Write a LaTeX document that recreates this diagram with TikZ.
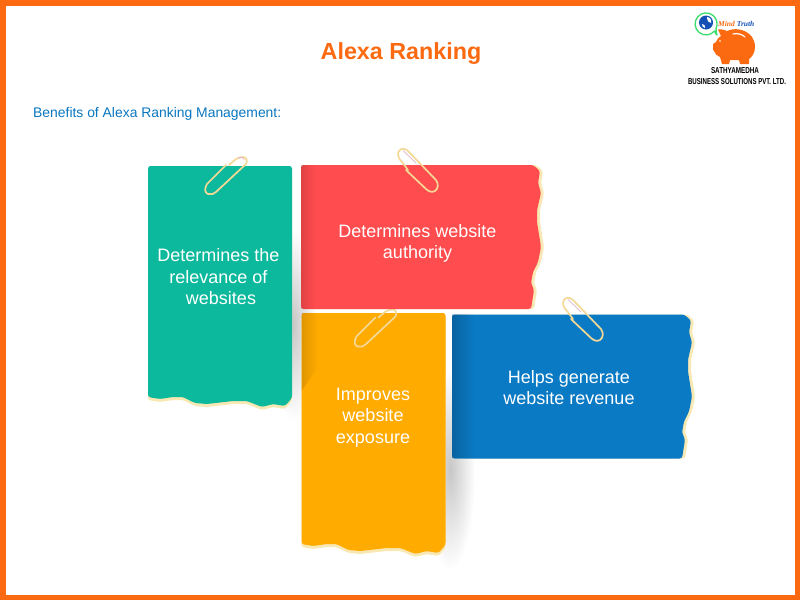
\documentclass[tikz,border=0pt]{standalone}
\usepackage{fontspec}
\usepackage{graphicx}
\usetikzlibrary{fadings}
\setmainfont{Liberation Sans}
\newfontfamily\logoserif{Liberation Serif}
\definecolor{frameorange}{HTML}{FB6A10}
\definecolor{paperteal}{HTML}{0DB99C}
\definecolor{paperred}{HTML}{FF4C4E}
\definecolor{paperamber}{HTML}{FFAB00}
\definecolor{paperblue}{HTML}{0B7AC4}
\definecolor{tornedge}{HTML}{F8E8B4}
\definecolor{clipgold}{HTML}{F4D996}
\definecolor{clippink}{HTML}{E0B4C8}
\definecolor{subblue}{HTML}{0A77C0}
\definecolor{bubblegreen}{HTML}{3DDC6E}
\definecolor{globeblue}{HTML}{1450B4}
\tikzfading[name=softglow, inner color=transparent!78, outer color=transparent!100]
\newcommand{\tallpaper}{(0,0) -- (144,0) -- (144,232) -- (137,240) -- (125,238) -- (114,241) -- (99,235) -- (85,235) -- (59,238) -- (47,237) -- (35,231) -- (25,231) -- (12,233) -- (0,231) -- cycle}
\newcommand{\widepaper}{(0,0) -- (232,0) -- (239,6) -- (237,18) -- (240,28) -- (236,45) -- (236,57) -- (240,82) -- (237,97) -- (232,107) -- (230,118) -- (233,125) -- (230,144) -- (0,144) -- cycle}
\newcommand{\clipupright}{(21,7) -- (2,26) .. controls (-1,31) and (0,35) .. (3,36) .. controls (6,37) and (9,36) .. (11,34) -- (41,6) .. controls (43,2) and (41,-1) .. (38,-1) .. controls (36,-1) and (33,0) .. (31,1) -- (24,7)}
\newcommand{\clipdownright}{(10,23) -- (4,15) .. controls (0,11) and (-1,7) .. (1,4) .. controls (3,1) and (7,1) .. (10,4) -- (38,33) .. controls (41,37) and (40,42) .. (37,44) .. controls (34,46) and (30,44) .. (28,42) -- (8,23)}
\tikzset{
  x=1pt,y=-1pt,
  notetext/.style={text=white,align=center,inner sep=0pt,font={\fontsize{18}{21.5}\selectfont}},
  clipwire/.style={draw=clipgold,line width=1.7pt,line cap=round,line join=round},
  softshadow/.style={fill=black,path fading=softglow},
  leftshade/.style={fill=black,opacity=.12,path fading=east},
  tear/.style={rounded corners=2.5pt},
}
\begin{document}
\begin{tikzpicture}
\useasboundingbox (0,0) rectangle (800,600);
\fill[white] (0,0) rectangle (800,600);
% soft shadows
\fill[softshadow] (270,230) rectangle (316,420);
\fill[softshadow] (425,370) rectangle (475,570);
% amber note with its clip
\begin{scope}[shift={(301.5,313)}]
  \fill[tornedge,tear,shift={(0,3)}] \tallpaper;
  \fill[paperamber,tear] \tallpaper;
  \fill[leftshade] (0,0) -- (16,0) -- (16,55) -- (0,78) -- cycle;
\end{scope}
\draw[clipwire,shift={(354.5,310.5)}] \clipupright;
% teal note
\begin{scope}[shift={(148,166)}]
  \fill[tornedge,tear,shift={(0,3)}] \tallpaper;
  \fill[paperteal,tear] \tallpaper;
\end{scope}
\draw[clipwire,shift={(205,158)}] \clipupright;
\draw[clippink,line width=.7pt] (238,157.5) .. controls (241,156.5) and (243,157.5) .. (244.5,159.5);
% red note
\begin{scope}[shift={(301,165)}]
  \fill[tornedge,tear,shift={(3,0)}] \widepaper;
  \fill[paperred,tear] \widepaper;
  \fill[leftshade] (0,0) rectangle (14,144);
\end{scope}
\draw[clipwire,shift={(398,147)}] \clipdownright;
\draw[clippink,line width=.7pt] (403,150.5) -- (416,163);
% blue note
\begin{scope}[shift={(452,314.5)}]
  \fill[tornedge,tear,shift={(3,0)}] \widepaper;
  \fill[paperblue,tear] \widepaper;
  \fill[leftshade,opacity=.18] (0,0) rectangle (22,144);
\end{scope}
\draw[clipwire,shift={(563,296)}] \clipdownright;
\draw[clippink,line width=.7pt] (568,299.5) -- (581,312);
% frame
\draw[frameorange,line width=5.5pt] (2.75,2.75) rectangle (797.25,597.25);
% headings
\node[text=frameorange,inner sep=0pt,font={\fontsize{23.3}{28}\selectfont\bfseries}] (title) at (401,54) {Alexa Ranking};
\node[text=subblue,anchor=west,inner sep=0pt,font={\fontsize{13.9}{18}\selectfont}] (subtitle) at (33,114) {Benefits of Alexa Ranking Management:};
% note texts
\node[notetext] (t1) at (218.5,277) {Determines the\\relevance of\\\hspace*{5pt}websites};
\node[notetext] (t2) at (417.5,243.5) {Determines website\\authority};
\node[notetext] (t3) at (373,417.5) {Improves\\website\\exposure};
\node[notetext] (t4) at (569,387.5) {Helps generate\\website revenue};
% logo
\fill[white,draw=bubblegreen,line width=1.3pt,line join=round] (714.5,31) arc[start angle=40,end angle=385,radius=11] .. controls (716,30) and (716,32) .. (717,35) .. controls (716,34) and (715,33) .. (714.5,31) -- cycle;
\fill[globeblue] (706,22.5) circle[radius=7];
\fill[white] (707,17) .. controls (710,17) and (712,20) .. (711,23) .. controls (709,23) and (707,21) .. (707,17) -- cycle;
\fill[white] (702,24) .. controls (704,24) and (706,26) .. (705,28) .. controls (703,28) and (702,26) .. (702,24) -- cycle;
\fill[frameorange] (718,29.5) .. controls (722,29) and (725,30) .. (727,31) .. controls (737,26) and (755,31) .. (755,47) .. controls (755,53) and (752,57) .. (749,59) -- (749,64) -- (740,64) -- (739,60) -- (730,60) -- (729,64) -- (722,64) -- (720,57) .. controls (717,56) and (715,54) .. (714,51) -- (713,50) -- (713,44) -- (716,42) .. controls (717,39) and (719,37) .. (721,36) -- cycle;
\draw[white,line width=1.2pt,line cap=round] (733,34) .. controls (737,33) and (742,34) .. (745,37);
\fill[white] (720,41) circle[radius=.9];
\node[inner sep=0pt,anchor=west,font={\fontsize{7.5}{9}\logoserif\bfseries\itshape}] (mindtruth) at (718,24) {\textcolor{frameorange}{Mind} \textcolor{globeblue}{Truth}};
\node[inner sep=0pt,font=\bfseries] (logo1) at (735,70.5) {\resizebox{48pt}{6pt}{SATHYAMEDHA}};
\node[inner sep=0pt,font=\bfseries] (logo2) at (737,81.5) {\resizebox{98pt}{6pt}{BUSINESS SOLUTIONS PVT. LTD.}};
\end{tikzpicture}
\end{document}
